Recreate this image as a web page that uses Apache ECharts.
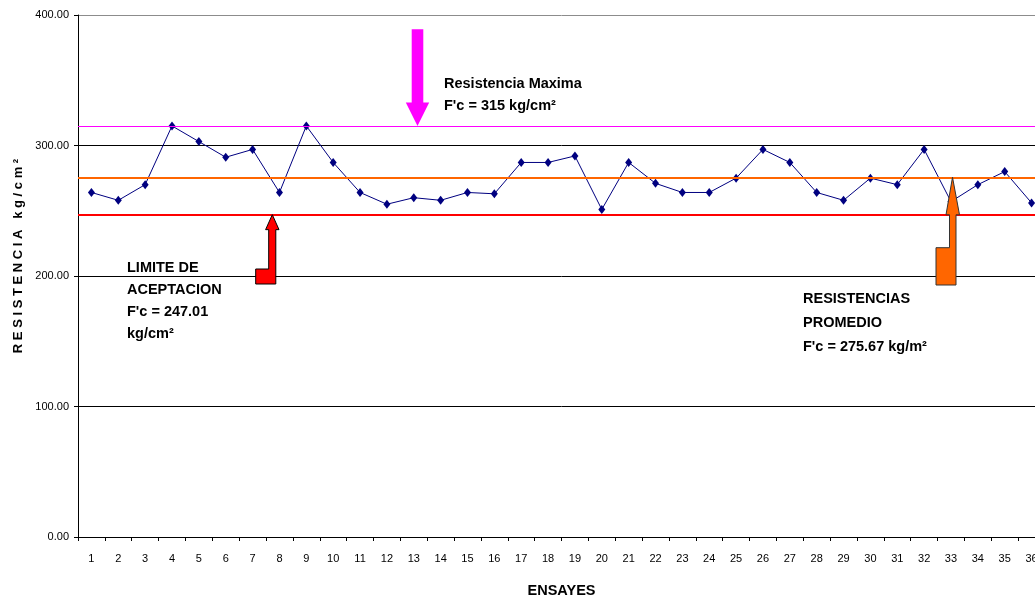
<!DOCTYPE html>
<html>
<head>
<meta charset="utf-8">
<title>Resistencia a la compresión por ensaye</title>
<script src="https://cdn.jsdelivr.net/npm/echarts@6/dist/echarts.min.js"></script>
<style>
  html, body { margin: 0; padding: 0; overflow: hidden; background: #ffffff; }
  #chart { width: 1060px; height: 598px; }
</style>
</head>
<body>
<div id="chart"></div>
<script>
// Número de ensaye (eje X)
const ensayes = ['1','2','3','4','5','6','7','8','9','10','11','12','13','14','15','16','17','18',
                 '19','20','21','22','23','24','25','26','27','28','29','30','31','32','33','34','35','36'];

// Resistencia obtenida en cada ensaye, kg/cm²
const resistencias = [264, 258, 270, 315, 303, 291, 297, 264, 315, 287, 264, 255,
                      260, 258, 264, 263, 287, 287, 292, 251, 287, 271, 264, 264,
                      275, 297, 287, 264, 258, 275, 270, 297, 257, 270, 280, 256];

// Valores de referencia, kg/cm²
const resistenciaMaxima = 315;
const resistenciaPromedio = 275.67;
const limiteAceptacion = 247.01;

// Escala del eje Y
const ejeYMin = 0;
const ejeYMax = 400;
const ejeYPaso = 100;

const FUENTE = '"Liberation Sans", Arial, Helvetica, sans-serif';

const chart = echarts.init(document.getElementById('chart'), null, { renderer: 'canvas' });

chart.setOption({
  animation: false,
  backgroundColor: '#ffffff',
  grid: { left: 78, right: 15, top: 15, bottom: 61, containLabel: false, outerBoundsMode: 'none' },
  xAxis: {
    type: 'category',
    data: ensayes,
    boundaryGap: true,
    name: 'ENSAYES',
    nameLocation: 'middle',
    nameGap: 46,
    nameTextStyle: { color: '#000', fontFamily: FUENTE, fontWeight: 'bold', fontSize: 14.5 },
    axisLine: { lineStyle: { color: '#000', width: 1 } },
    axisTick: { show: true, length: 4, lineStyle: { color: '#000' } },
    axisLabel: { color: '#000', fontFamily: FUENTE, fontSize: 11, margin: 16, interval: 0 },
    splitLine: { show: false }
  },
  yAxis: {
    type: 'value',
    min: ejeYMin,
    max: ejeYMax,
    interval: ejeYPaso,
    axisLine: { show: true, lineStyle: { color: '#000', width: 1 } },
    axisTick: { show: true, length: 4, lineStyle: { color: '#000' } },
    axisLabel: {
      color: '#000', fontFamily: FUENTE, fontSize: 11, margin: 9,
      formatter: v => v.toFixed(2)
    },
    splitLine: { show: true, lineStyle: { color: ['#000', '#000', '#000', '#000', '#8c8c8c'], width: 1 } }
  },
  series: [
    {
      name: 'Referencias',
      type: 'line',
      data: [],
      z: 1,
      silent: true,
      markLine: {
        silent: true,
        symbol: ['none', 'none'],
        label: { show: false },
        animation: false,
        data: [
          { yAxis: resistenciaMaxima, lineStyle: { color: '#ff00ff', width: 1.2, type: 'solid' } },
          { yAxis: resistenciaPromedio, lineStyle: { color: '#ff6600', width: 2, type: 'solid' } },
          { yAxis: limiteAceptacion, lineStyle: { color: '#ff0000', width: 2, type: 'solid' } }
        ]
      }
    },
    {
      name: 'Resistencia',
      type: 'line',
      data: resistencias,
      z: 3,
      color: '#000080',
      lineStyle: { color: '#000080', width: 1 },
      symbol: 'diamond',
      symbolSize: [7, 9],
      itemStyle: { color: '#000080' }
    }
  ]
});

// Flechas y textos de anotación
const yPx = v => chart.convertToPixel({ yAxisIndex: 0 }, v);

const yMax = yPx(resistenciaMaxima);
const yProm = yPx(resistenciaPromedio);
const yLim = yPx(limiteAceptacion);

// Flecha vertical hacia la resistencia máxima
const fxM = 417.5;
const flechaMaxima = [
  [fxM - 5.8, 29.3], [fxM + 5.8, 29.3], [fxM + 5.8, yMax - 23.4], [fxM + 11.7, yMax - 23.4],
  [fxM, yMax], [fxM - 11.7, yMax - 23.4], [fxM - 5.8, yMax - 23.4]
];

// Flecha acodada hacia el límite de aceptación
const fxL = 272.3;
const flechaLimite = [
  [255.7, 284], [275.8, 284], [275.8, yLim + 15], [279, yLim + 15], [fxL, yLim],
  [265.6, yLim + 15], [268.7, yLim + 15], [268.7, 269], [255.7, 269]
];

// Flecha acodada hacia la resistencia promedio
const fxP = 952.5;
const flechaPromedio = [
  [936, 285], [956, 285], [956, yProm + 37.5], [959.5, yProm + 37.5], [fxP, yProm],
  [946, yProm + 37.5], [949.5, yProm + 37.5], [949.5, 247.7], [936, 247.7]
];

const textoBold = (x, y, text, lineHeight) => ({
  type: 'text',
  x: x,
  y: y,
  z: 20,
  silent: true,
  style: {
    text: text,
    fill: '#000',
    font: 'bold 14.5px ' + FUENTE,
    lineHeight: lineHeight,
    align: 'left',
    verticalAlign: 'top'
  }
});

chart.setOption({
  graphic: [
    { type: 'polygon', z: 10, silent: true, shape: { points: flechaMaxima },
      style: { fill: '#ff00ff', stroke: null } },
    { type: 'polygon', z: 10, silent: true, shape: { points: flechaLimite },
      style: { fill: '#ff0000', stroke: '#000', lineWidth: 1 } },
    { type: 'polygon', z: 10, silent: true, shape: { points: flechaPromedio },
      style: { fill: '#ff6600', stroke: '#333', lineWidth: 1 } },

    textoBold(444, 73, 'Resistencia Maxima\nF\'c = 315 kg/cm²', 22),
    textoBold(127, 256.5, 'LIMITE DE\nACEPTACION\nF\'c = 247.01\nkg/cm²', 22),
    textoBold(803, 287.5, 'RESISTENCIAS\nPROMEDIO\nF\'c = 275.67 kg/m²', 23.7),

    {
      type: 'text',
      x: 18,
      y: 256,
      rotation: Math.PI / 2,
      z: 20,
      silent: true,
      style: {
        text: 'R E S I S T E N C I A   k g / c m ²',
        fill: '#000',
        font: 'bold 13px ' + FUENTE,
        align: 'center',
        verticalAlign: 'middle'
      }
    }
  ]
});
</script>
</body>
</html>
